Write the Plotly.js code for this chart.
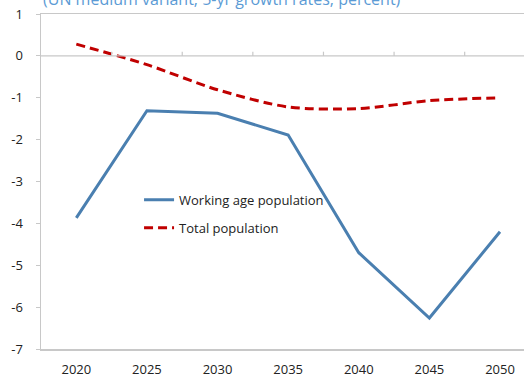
<!DOCTYPE html>
<html>
<head>
<meta charset="utf-8">
<script src="https://cdn.plot.ly/plotly-3.0.1.min.js"></script>
<style>
html,body{margin:0;padding:0;overflow:hidden;background:#fff;}
#chart{width:524px;height:375px;}
</style>
</head>
<body>
<div id="chart"></div>
<script>
var years = ['2020','2025','2030','2035','2040','2045','2050'];
var workingAge = [-3.87, -1.31, -1.37, -1.89, -4.70, -6.26, -4.20];
var totalPop = [0.28, -0.21, -0.81, -1.22, -1.26, -1.07, -1.00];
var yTickVals = [1, 0, -1, -2, -3, -4, -5, -6, -7];
var yTickText = ['1', '0', '-1', '-2', '-3', '-4', '-5', '-6', '-7'];
var seriesNames = ['Working age population', 'Total population'];
var subtitle = '(UN medium variant, 5-yr growth rates, percent)';

var axisGray = '#c8c8c8';
var fontFam = '"Open Sans", "Noto Sans", sans-serif';

var traces = [
  {x: years, y: workingAge, name: seriesNames[0], type: 'scatter', mode: 'lines',
   line: {color: '#4a7fb0', width: 3}, legendgroup: 'a'},
  {x: years, y: totalPop, name: seriesNames[1], type: 'scatter', mode: 'lines',
   line: {color: '#c00000', width: 3, dash: '9px,5px', shape: 'spline', smoothing: 0.8}, legendgroup: 'b'}
];

var shapes = [{type: 'line', xref: 'paper', yref: 'y', x0: 0, x1: 1, y0: 0, y1: 0,
               line: {color: axisGray, width: 1.2}}];
for (var i = 0; i < years.length - 1; i++) {
  shapes.push({type: 'line', xref: 'x', yref: 'y', x0: i + 0.5, x1: i + 0.5, y0: 0, y1: 0.1,
               line: {color: axisGray, width: 1.2}});
}

var layout = {
  width: 524, height: 375,
  margin: {l: 41, r: 0, t: 14.3, b: 26},
  paper_bgcolor: '#fff', plot_bgcolor: '#fff',
  font: {family: fontFam, size: 13, color: '#222'},
  showlegend: true,
  legend: {x: 0.203, y: 0.49, xanchor: 'left', yanchor: 'top', bgcolor: 'rgba(0,0,0,0)',
           traceorder: 'grouped', tracegroupgap: 8, font: {size: 13, color: '#222'}},
  xaxis: {type: 'category', range: [-0.5, 6.34], showgrid: false, zeroline: false,
          showline: true, linecolor: axisGray, linewidth: 1.5, mirror: true,
          ticks: '', ticklabelstandoff: 8, automargin: false, fixedrange: true},
  yaxis: {range: [-7, 1], tickvals: yTickVals, ticktext: yTickText, showgrid: false,
          zeroline: false, showline: true, linecolor: axisGray, linewidth: 1.5,
          ticks: 'outside', ticklen: 4, tickcolor: axisGray, ticklabelstandoff: 10,
          automargin: false, fixedrange: true},
  shapes: shapes,
  annotations: [{text: subtitle, xref: 'paper', yref: 'paper', x: 0, y: 1,
                 xanchor: 'left', yanchor: 'bottom', yshift: 2, showarrow: false,
                 font: {family: fontFam, size: 16, color: '#5b9bd5'}}]
};

Plotly.newPlot('chart', traces, layout, {displayModeBar: false, staticPlot: true});
</script>
</body>
</html>
